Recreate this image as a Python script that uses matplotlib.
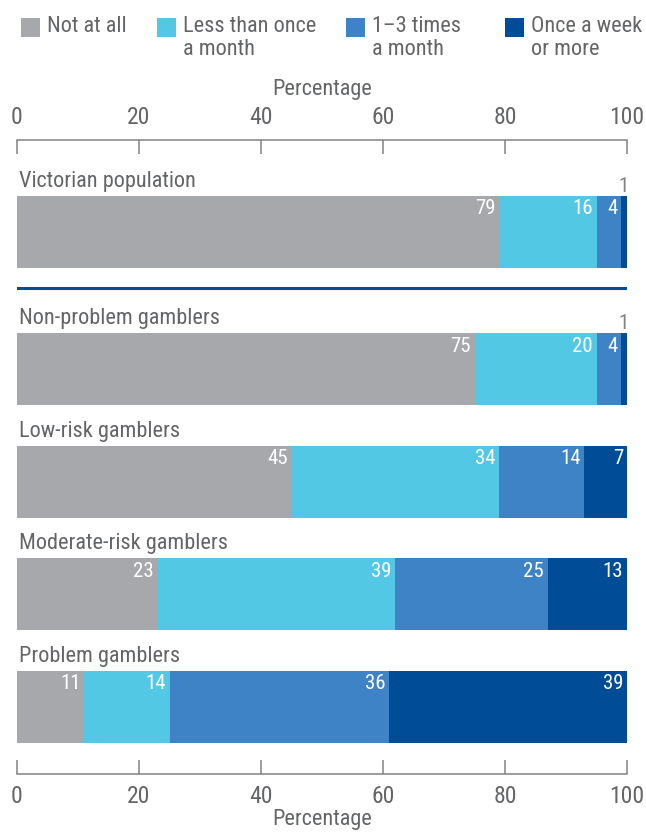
import numpy as np
import matplotlib.pyplot as plt
from matplotlib.patches import Rectangle

plt.rcParams['font.family'] = ['Roboto Condensed', 'Sofia Sans Condensed', 'DejaVu Sans']

groups = ["Victorian population", "Non-problem gamblers", "Low-risk gamblers",
          "Moderate-risk gamblers", "Problem gamblers"]
series = ["Not at all", "Less than once\na month", "1\u20133 times\na month",
          "Once a week\nor more"]
not_at_all = [79, 75, 45, 23, 11]
less_monthly = [16, 20, 34, 39, 14]
one_to_three = [4, 4, 14, 25, 36]
weekly = [1, 1, 7, 13, 39]
ticks = [0, 20, 40, 60, 80, 100]

colors = ["#A7A8AB", "#53C8E4", "#3E83C5", "#004C97"]
txt = "#646567"
axc = "#808285"

data = np.array([not_at_all, less_monthly, one_to_three, weekly])
# gap after the population bar
ypos = np.array([0, 1.22, 2.22, 3.22, 4.22])
bh = 0.64

fig = plt.figure(figsize=(6.46, 8.32), dpi=100)
ax = fig.add_axes([17/646, 1 - 774/832, 610/646, 634/832])

left = np.zeros(len(groups))
for k in range(4):
    ax.barh(ypos, data[k], left=left, height=bh, color=colors[k], linewidth=0)
    for i, v in enumerate(data[k]):
        if v >= 3:
            ax.text(left[i] + v - 0.6, ypos[i] - bh/2 + 0.03, str(v), ha="right",
                    va="top", color="white", fontsize=15)
        else:
            ax.text(left[i] + v/2, ypos[i] - bh/2 - 0.035, str(v), ha="center",
                    va="baseline", color=axc, fontsize=15)
    left += data[k]

for i, g in enumerate(groups):
    ax.text(0.3, ypos[i] - bh/2 - 0.08, g, ha="left", va="baseline",
            color=txt, fontsize=16)

ax.axhline(ypos[0] + 0.5, color="#004C97", lw=2.2)

ax.set_xlim(0, 100)
ax.set_ylim(4.818, -0.818)
ax.set_yticks([])
for s in ["left", "right", "top"]:
    ax.spines[s].set_visible(False)
ax.spines["bottom"].set_color(axc)
ax.spines["bottom"].set_linewidth(1.1)
ax.set_xticks(ticks)
ax.tick_params(axis="x", direction="in", length=10, width=1.1, color=axc,
               labelcolor=txt, labelsize=17, pad=8)
ax.set_xlabel("Percentage", color=txt, fontsize=16, labelpad=0.5)

sec = ax.secondary_xaxis("top")
sec.set_xticks(ticks)
sec.spines["top"].set_color(axc)
sec.spines["top"].set_linewidth(1.1)
sec.tick_params(axis="x", direction="in", length=10, width=1.1, color=axc,
                labelcolor=txt, labelsize=17, pad=8)
sec.set_xlabel("Percentage", color=txt, fontsize=16, labelpad=8)

# legend
lx = [21, 157, 346, 505]
for k in range(4):
    fig.add_artist(Rectangle((lx[k]/646, 1 - 37/832), 19/646, 19/832,
                             transform=fig.transFigure, color=colors[k], lw=0))
    fig.text((lx[k] + 26)/646, 1 - 16/832, series[k], ha="left", va="top",
             color=txt, fontsize=16, linespacing=1.15)

fig.savefig("out.png", dpi=100)
